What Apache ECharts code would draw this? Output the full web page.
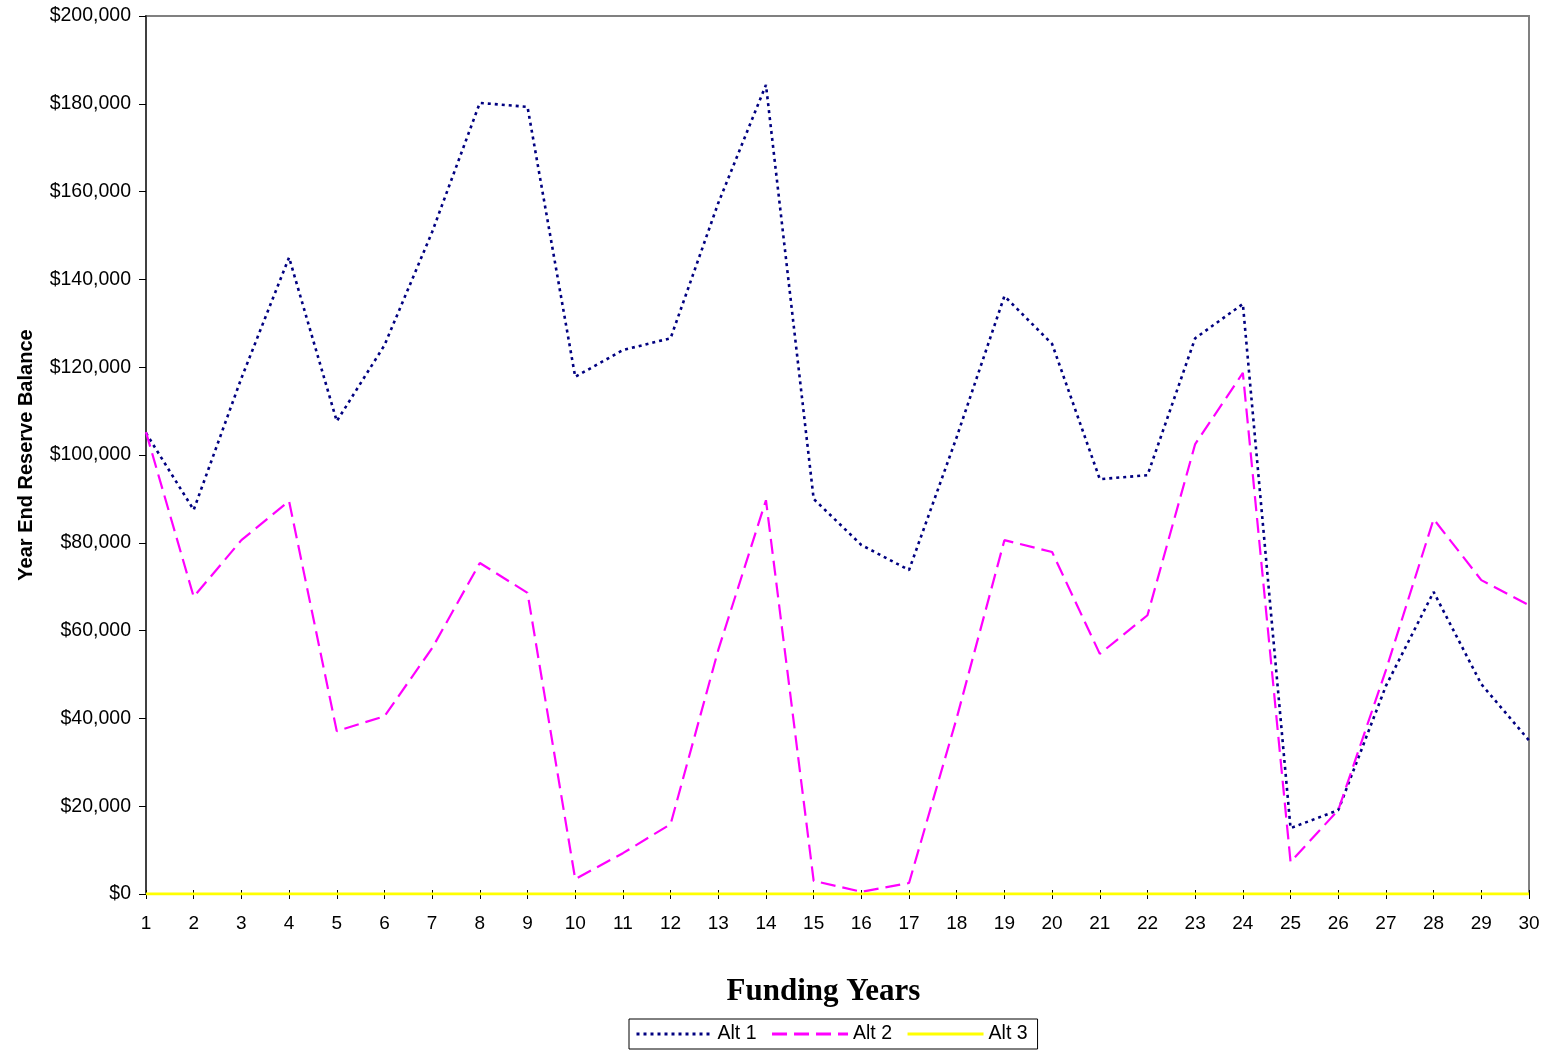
<!DOCTYPE html>
<html><head><meta charset="utf-8">
<script src="https://cdn.jsdelivr.net/npm/echarts@6/dist/echarts.min.js"></script>
<style>html,body{margin:0;padding:0;background:#fff}#c{width:1546px;height:1050px}</style>
</head><body><div id="c"></div>
<script>
const years = ['1','2','3','4','5','6','7','8','9','10','11','12','13','14','15','16','17','18','19','20','21','22','23','24','25','26','27','28','29','30'];
const alt1 = [105000,87500,117500,145000,107700,125000,150800,180200,179300,117800,123900,126600,157400,184300,90000,79500,73800,104100,136200,125300,94500,95400,126600,134400,15000,19100,47400,68800,47800,35000];
const alt2 = [105200,67700,80600,89500,37100,40500,56000,75400,68600,3400,9300,15900,55600,89700,3000,500,2500,40100,80600,77900,54700,63500,102500,118700,7300,19100,51000,85400,71500,65800];
const alt3 = [0,0,0,0,0,0,0,0,0,0,0,0,0,0,0,0,0,0,0,0,0,0,0,0,0,0,0,0,0,0];
const yTicks = {min:0, max:200000, interval:20000};

const chart = echarts.init(document.getElementById('c'), null, {renderer:'canvas'});
const font = 'Liberation Sans';
chart.setOption({
  animation:false,
  backgroundColor:'#fff',
  grid:{left:146, right:17, top:16, bottom:156, show:true, borderColor:'#808080', borderWidth:2, containLabel:false},
  xAxis:[{
    type:'category', data:years, boundaryGap:false,
    axisLine:{lineStyle:{color:'#808080', width:2}},
    axisTick:{show:true, length:5, alignWithLabel:true, lineStyle:{color:'#000', width:1}},
    axisLabel:{color:'#000', fontFamily:font, fontSize:19, margin:20, interval:0},
    name:'Funding Years', nameLocation:'middle', nameGap:82,
    nameTextStyle:{fontFamily:'Liberation Serif', fontWeight:'bold', fontSize:31, color:'#000', padding:[0,28,0,0]},
    splitLine:{show:false}
  },{
    type:'category', data:years, boundaryGap:false, position:'bottom',
    axisLine:{show:false},
    axisTick:{show:true, inside:true, length:4, lineStyle:{color:'#000', width:1}},
    axisLabel:{show:false}, splitLine:{show:false}
  }],
  yAxis:{
    type:'value', min:yTicks.min, max:yTicks.max, interval:yTicks.interval,
    axisLine:{show:true, lineStyle:{color:'#404040', width:2}},
    axisTick:{show:true, length:7, lineStyle:{color:'#000', width:1}},
    axisLabel:{color:'#000', fontFamily:font, fontSize:19.5, margin:15,
      formatter:v=>'$'+v.toLocaleString('en-US')},
    splitLine:{show:false},
    name:'Year End Reserve Balance', nameLocation:'middle', nameGap:110,
    nameTextStyle:{fontFamily:font, fontWeight:'bold', fontSize:20, color:'#000'}
  },
  legend:{
    bottom:1, left:629, itemWidth:76, itemHeight:12, itemGap:14,
    borderColor:'#000', borderWidth:1, padding:[5,10,5,6],
    itemStyle:{opacity:0},
    lineStyle:{width:3},
    textStyle:{fontFamily:font, fontSize:19.5, color:'#000'},
    data:['Alt 1','Alt 2','Alt 3']
  },
  series:[
    {name:'Alt 1', type:'line', data:alt1, symbol:'none', showSymbol:false,
     lineStyle:{color:'#000080', width:2.6, type:[3,4]}, itemStyle:{color:'#000080'}},
    {name:'Alt 2', type:'line', data:alt2, symbol:'none', showSymbol:false,
     lineStyle:{color:'#ff00ff', width:2.2, type:[15,7]}, itemStyle:{color:'#ff00ff'}},
    {name:'Alt 3', type:'line', data:alt3, symbol:'none', showSymbol:false,
     lineStyle:{color:'#ffff00', width:3}, itemStyle:{color:'#ffff00'}}
  ]
});
</script></body></html>
